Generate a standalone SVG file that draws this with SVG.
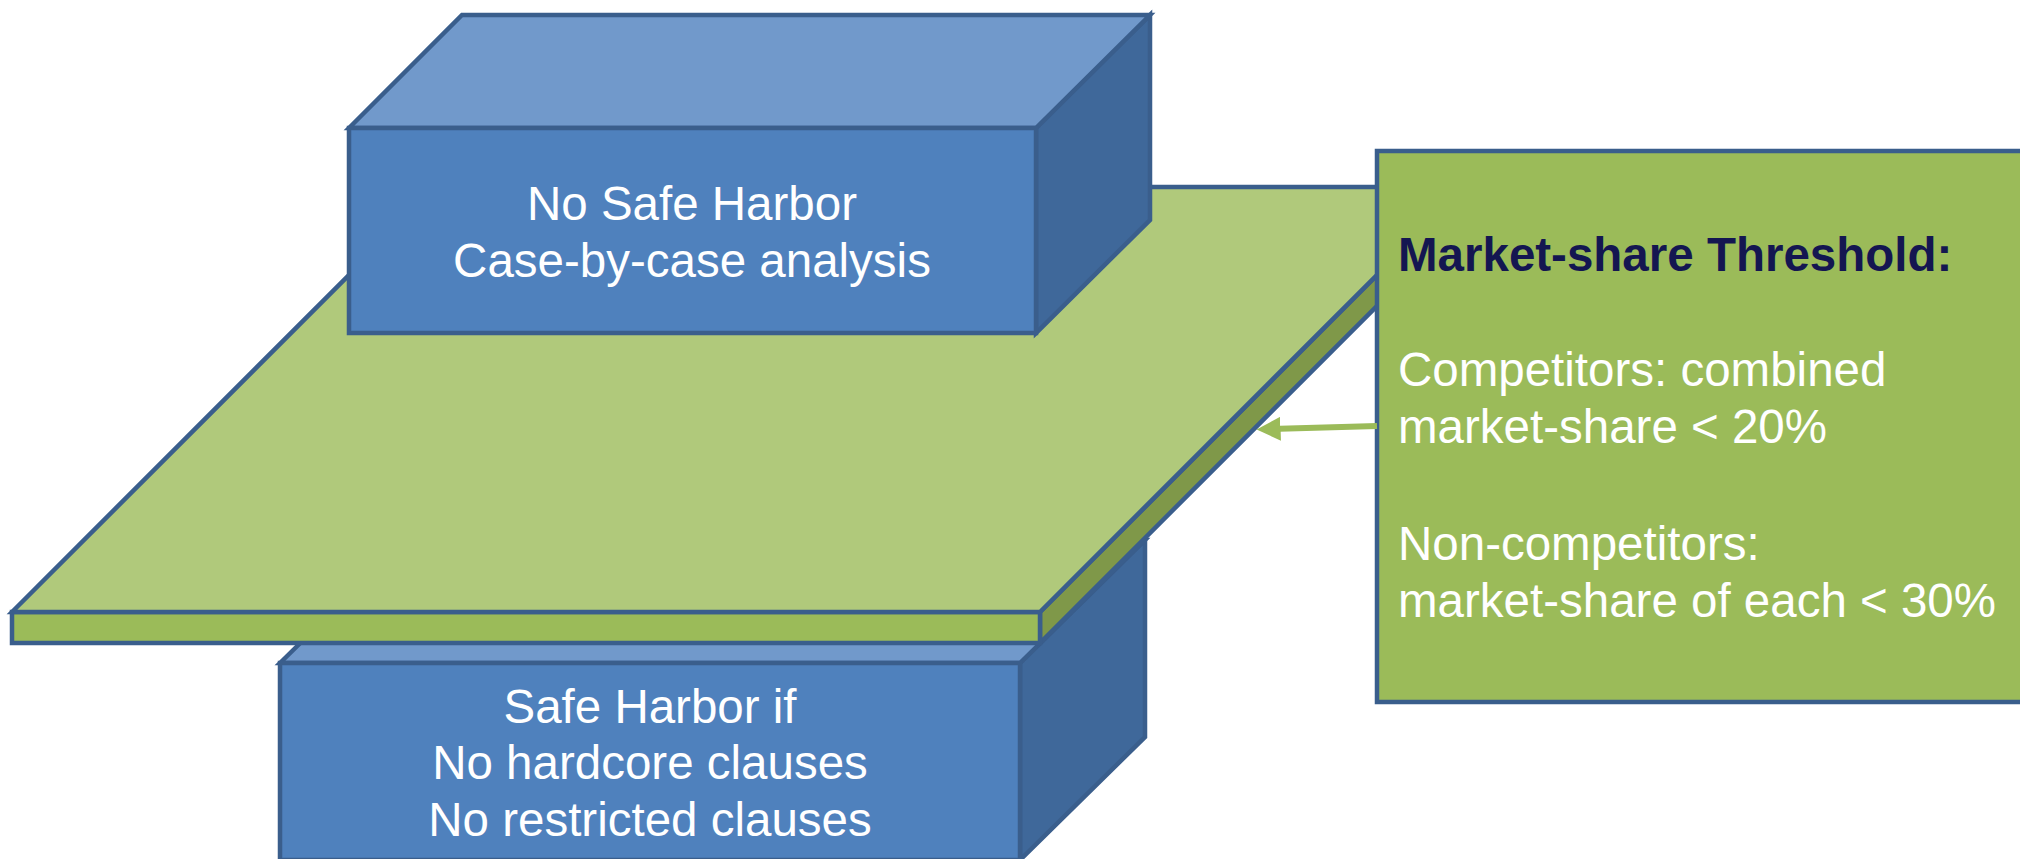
<svg xmlns="http://www.w3.org/2000/svg" width="2020" height="859" viewBox="0 0 2020 859">
  <defs>
    <style>
      .edge { stroke: #3A5E8C; stroke-width: 4.5; stroke-linejoin: miter; }
      .blue-front { fill: #4F81BD; }
      .blue-top { fill: #7199CB; }
      .blue-side { fill: #3F689A; }
      .plane-top { fill: #B0C97B; }
      .plane-front { fill: #9BBB59; }
      .plane-side { fill: #7F9849; }
      .callout { fill: #9BBB59; }
      .label { font-family: "Liberation Sans", Arial, sans-serif; font-size: 47.5px; fill: #FFFFFF; }
      .mid { text-anchor: middle; }
      .head { font-weight: bold; fill: #141651; }
      .link { stroke: #9BBB59; stroke-width: 6; fill: none; }
    </style>
    <marker id="arrowhead" viewBox="0 0 10 10" refX="4" refY="5" markerWidth="4" markerHeight="4" orient="auto">
      <path d="M0,0 L10,5 L0,10 z" fill="#9BBB59"/>
    </marker>
  </defs>

  <rect x="0" y="0" width="2020" height="859" fill="#FFFFFF"/>

  <!-- lower block: safe harbor -->
  <g id="safe-harbor">
    <polygon class="blue-side edge" points="1020,663 1145,540 1145,737 1020,860"/>
    <polygon class="blue-top edge" points="280,663 405,540 1145,540 1020,663"/>
    <rect class="blue-front edge" x="280" y="663" width="740" height="197"/>
    <text class="label mid" x="650" y="723">Safe Harbor if</text>
    <text class="label mid" x="650" y="779">No hardcore clauses</text>
    <text class="label mid" x="650" y="836">No restricted clauses</text>
  </g>

  <!-- threshold plane -->
  <g id="threshold-plane">
    <polygon class="plane-side edge" points="1040,612 1465,187 1465,218 1040,643"/>
    <rect class="plane-front edge" x="12" y="612" width="1028" height="31"/>
    <polygon class="plane-top edge" points="12,612 437,187 1465,187 1040,612"/>
  </g>

  <!-- upper block: no safe harbor -->
  <g id="no-safe-harbor">
    <polygon class="blue-side edge" points="1036,128 1150,15 1150,220 1036,333"/>
    <polygon class="blue-top edge" points="349,128 462,15 1150,15 1036,128"/>
    <rect class="blue-front edge" x="349" y="128" width="687" height="205"/>
    <text class="label mid" x="692" y="220">No Safe Harbor</text>
    <text class="label mid" x="692" y="277">Case-by-case analysis</text>
  </g>

  <!-- market-share callout -->
  <g id="threshold-callout">
    <rect class="callout edge" x="1377" y="151" width="700" height="551"/>
    <text class="label head" x="1398" y="271">Market-share Threshold:</text>
    <text class="label" x="1398" y="386">Competitors: combined</text>
    <text class="label" x="1398" y="443">market-share &lt; 20%</text>
    <text class="label" x="1398" y="560">Non-competitors:</text>
    <text class="label" x="1398" y="617">market-share of each &lt; 30%</text>
  </g>

  <!-- connectors -->
  <g id="connectors">
    <line class="link" x1="1377" y1="426" x2="1271" y2="429" marker-end="url(#arrowhead)"/>
  </g>
</svg>
